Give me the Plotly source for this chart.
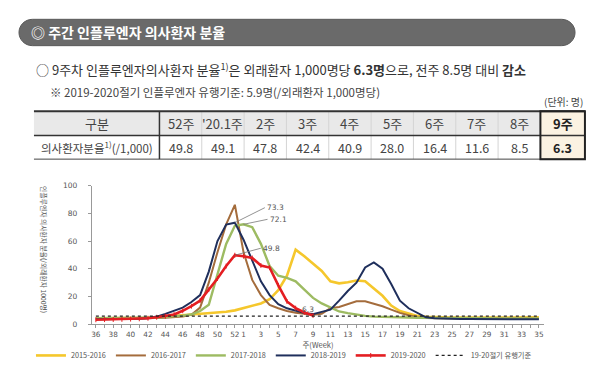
import plotly.graph_objects as go

W, H = 600, 370

# ---------------- data ----------------
week_labels = ["36", "37", "38", "39", "40", "41", "42", "43", "44", "45", "46", "47",
               "48", "49", "50", "51", "52", "1", "2", "3", "4", "5", "6", "7", "8",
               "9", "10", "11", "12", "13", "14", "15", "16", "17", "18", "19", "20",
               "21", "22", "23", "24", "25", "26", "27", "28", "29", "30", "31", "32",
               "33", "34", "35"]
labeled_weeks = ["36", "38", "40", "42", "44", "46", "48", "50", "52", "1", "3", "5", "7", "9",
                 "11", "13", "15", "17", "19", "21", "23", "25", "27", "29", "31", "33", "35"]

s2015_2016 = [4.2, 4.2, 4.3, 4.3, 4.4, 4.5, 4.7, 5.0, 5.5, 6.0, 6.4, 6.8, 7.2, 7.7, 8.3, 9.0, 10.0,
              11.5, 13.0, 15.0, 18.0, 24.5, 35.0, 53.8, 49.0, 44.0, 38.5, 31.0, 29.5, 30.3, 31.5,
              31.0, 26.0, 20.5, 13.5, 9.5, 7.7, 6.0, 5.3, 5.0, 4.9, 4.8, 4.8, 4.7, 4.7, 4.7, 4.8,
              4.8, 4.9, 4.9, 5.0, 5.0]
s2016_2017 = [4.0, 4.0, 4.0, 4.1, 4.1, 4.2, 4.3, 4.4, 4.6, 5.0, 5.6, 6.8, 12.0, 30.0, 52.0, 72.0, 86.2,
              52.0, 32.0, 21.0, 14.0, 11.5, 9.5, 8.3, 7.3, 6.8, 7.5, 11.5, 12.5, 14.5, 16.5, 16.5,
              15.0, 13.0, 10.5, 8.2, 6.5, 5.0, 4.5, 4.3, 4.2, 4.2, 4.1, 4.1, 4.1, 4.1, 4.0, 4.0,
              4.0, 4.0, 4.0, 4.0]
s2017_2018 = [4.3, 4.3, 4.4, 4.4, 4.5, 4.6, 4.7, 4.9, 5.2, 5.6, 6.2, 7.0, 9.5, 14.0, 36.0, 58.0, 71.0,
              72.1, 70.0, 58.0, 42.0, 35.0, 33.5, 31.0, 25.0, 19.0, 15.0, 12.0, 9.2, 8.0, 6.8, 6.0,
              5.5, 5.2, 5.0, 5.0, 4.8, 4.7, 4.6, 4.5, 4.5, 4.4, 4.4, 4.3, 4.3, 4.3, 4.2, 4.2, 4.2,
              4.1, 4.1, 4.1]
s2018_2019 = [3.5, 3.5, 3.6, 3.6, 3.7, 3.9, 4.3, 5.5, 7.5, 9.5, 12.0, 16.0, 21.0, 38.0, 60.0, 71.9, 73.3,
              61.0, 46.0, 31.0, 21.0, 14.5, 11.5, 9.5, 8.0, 7.3, 9.0, 10.5, 17.0, 24.0, 30.0, 41.0,
              44.6, 40.0, 29.0, 17.0, 11.5, 8.0, 5.0, 4.3, 4.0, 3.9, 3.8, 3.8, 3.7, 3.7, 3.7, 3.6,
              3.6, 3.6, 3.6, 3.5]
s2019_2020 = [3.2, 3.3, 3.4, 3.5, 3.7, 3.9, 4.3, 5.0, 5.8, 7.0, 9.7, 13.0, 17.0, 25.0, 33.0, 42.0, 49.8,
              49.1, 47.8, 42.4, 40.9, 28.0, 16.4, 11.6, 8.5, 6.3]
threshold = 5.9

series_names = ["2015-2016", "2016-2017", "2017-2018", "2018-2019", "2019-2020"]
series_values = [s2015_2016, s2016_2017, s2017_2018, s2018_2019, s2019_2020]
series_colors = ["#f5c72c", "#a46c3c", "#9dbb62", "#1f2f5c", "#e41e22"]
series_widths = [2.6, 2.0, 2.4, 2.0, 2.6]

y_ticks = [0, 20, 40, 60, 80, 100]

table_header = ["구분", "52주", "'20.1주", "2주", "3주", "4주", "5주", "6주", "7주", "8주", "<b>9주</b>"]
table_label = "의사환자분율<sup>1)</sup>(/1,000)"
table_rates = ["49.8", "49.1", "47.8", "42.4", "40.9", "28.0", "16.4", "11.6", "8.5", "<b>6.3</b>"]

# ---------------- helpers ----------------
def px(x):
    return x / W

def py(y):
    return 1 - y / H

FONT = "Noto Sans CJK KR"
AX_FONT = "DejaVu Sans"

xi = list(range(len(week_labels)))

fig = go.Figure()

for name, vals, col, wd in zip(series_names, series_values, series_colors, series_widths):
    is_red = name == "2019-2020"
    fig.add_trace(go.Scatter(
        x=xi[:len(vals)], y=vals, name=name,
        mode="lines+markers" if is_red else "lines",
        line=dict(color=col, width=wd),
        marker=dict(symbol="line-ns-open", size=3.5, line=dict(width=1, color="#b01015")) if is_red else None,
        hoverinfo="skip",
    ))

fig.add_trace(go.Scatter(
    x=xi, y=[threshold] * len(xi), name="19-20절기 유행기준", mode="lines",
    line=dict(color="#222222", width=1.3, dash="dot"), hoverinfo="skip",
))

# ---------------- table (shapes + text) ----------------
TB_X0, TB_Y0, TB_YM, TB_Y1 = 25, 101.7, 126.6, 150.8
col_w = [125.7] + [42.4] * 9 + [44.6]
edges = [TB_X0]
for w in col_w:
    edges.append(edges[-1] + w)
TB_X1 = edges[-1]

shapes = []
shapes.append(dict(type="rect", xref="paper", yref="paper", x0=px(edges[0]), x1=px(edges[-2]),
                   y0=py(TB_YM), y1=py(TB_Y0), fillcolor="#e9e9e9", line=dict(width=0), layer="below"))
shapes.append(dict(type="rect", xref="paper", yref="paper", x0=px(edges[-2]), x1=px(edges[-1]),
                   y0=py(TB_Y1), y1=py(TB_Y0), fillcolor="#fbf2e2", line=dict(width=0), layer="below"))
for e in edges[2:-2]:
    shapes.append(dict(type="line", xref="paper", yref="paper", x0=px(e), x1=px(e),
                       y0=py(TB_Y1), y1=py(TB_Y0), line=dict(color="#d4d4d4", width=1)))
shapes += [
    dict(type="line", xref="paper", yref="paper", x0=px(TB_X0), x1=px(TB_X1), y0=py(TB_Y0), y1=py(TB_Y0),
         line=dict(color="#333333", width=2)),
    dict(type="line", xref="paper", yref="paper", x0=px(TB_X0), x1=px(TB_X1), y0=py(TB_YM), y1=py(TB_YM),
         line=dict(color="#333333", width=1.5)),
    dict(type="line", xref="paper", yref="paper", x0=px(TB_X0), x1=px(TB_X1), y0=py(TB_Y1), y1=py(TB_Y1),
         line=dict(color="#444444", width=1)),
    dict(type="line", xref="paper", yref="paper", x0=px(edges[1]), x1=px(edges[1]), y0=py(TB_Y0), y1=py(TB_Y1),
         line=dict(color="#333333", width=1.5)),
    dict(type="rect", xref="paper", yref="paper", x0=px(edges[-2]), x1=px(edges[-1]), y0=py(TB_Y0), y1=py(TB_Y1),
         line=dict(color="#222222", width=2)),
]

def rounded_rect(x0, y0, x1, y1, r):
    k = 0.5523 * r
    pts = [
        f"M{px(x0 + r)},{py(y0)}",
        f"L{px(x1 - r)},{py(y0)}",
        f"C{px(x1 - r + k)},{py(y0)} {px(x1)},{py(y0 + r - k)} {px(x1)},{py(y0 + r)}",
        f"L{px(x1)},{py(y1 - r)}",
        f"C{px(x1)},{py(y1 - r + k)} {px(x1 - r + k)},{py(y1)} {px(x1 - r)},{py(y1)}",
        f"L{px(x0 + r)},{py(y1)}",
        f"C{px(x0 + r - k)},{py(y1)} {px(x0)},{py(y1 - r + k)} {px(x0)},{py(y1 - r)}",
        f"L{px(x0)},{py(y0 + r)}",
        f"C{px(x0)},{py(y0 + r - k)} {px(x0 + r - k)},{py(y0)} {px(x0 + r)},{py(y0)} Z",
    ]
    return " ".join(pts)

shapes.append(dict(type="path", xref="paper", yref="paper", path=rounded_rect(10, 7.5, 567, 34.5, 13.5),
                   fillcolor="#6a6a6a", line=dict(color="#5a5a5a", width=1), layer="below"))

annotations = []
row_texts = [table_header, [table_label] + table_rates]
row_mid = [(TB_Y0 + TB_YM) / 2, (TB_YM + TB_Y1) / 2]
row_size = [13, 12.5]
for r, texts in enumerate(row_texts):
    for c, t in enumerate(texts):
        cx = (edges[c] + edges[c + 1]) / 2
        annotations.append(dict(x=px(cx), y=py(row_mid[r]), xref="paper", yref="paper",
                                xanchor="center", yanchor="middle", showarrow=False, text=t,
                                font=dict(family=FONT, size=(11.5 if (r == 1 and c == 0) else row_size[r]),
                                          color="#222222" if c == len(texts) - 1 else "#444444")))

# ---------------- other texts ----------------
annotations += [
    dict(x=px(20), y=py(21), xref="paper", yref="paper", xanchor="left", yanchor="middle",
         showarrow=False, text="<b>◎ 주간 인플루엔자 의사환자 분율</b>",
         font=dict(family=FONT, size=14, color="#ffffff")),
    dict(x=px(25), y=py(58.5), xref="paper", yref="paper", xanchor="left", yanchor="middle",
         showarrow=False,
         text="○ 9주차 인플루엔자의사환자 분율<sup>1)</sup>은 외래환자 1,000명당 <b>6.3명</b>으로, 전주 8.5명 대비 <b>감소</b>",
         font=dict(family=FONT, size=13, color="#333333")),
    dict(x=px(39), y=py(81.5), xref="paper", yref="paper", xanchor="left", yanchor="middle",
         showarrow=False, text="※ 2019-2020절기 인플루엔자 유행기준: 5.9명(/외래환자 1,000명당)",
         font=dict(family=FONT, size=11.5, color="#444444")),
    dict(x=px(577), y=py(92), xref="paper", yref="paper", xanchor="right", yanchor="middle",
         showarrow=False, text="(단위: 명)",
         font=dict(family=FONT, size=10, color="#444444")),
    dict(x=px(35), y=py(244), xref="paper", yref="paper", xanchor="center", yanchor="middle",
         showarrow=False, textangle=90, text="인플루엔자 의사환자 분율(/외래환자 1000명)",
         font=dict(family=FONT, size=6.8, color="#555555")),
]

lab_font = dict(family=AX_FONT, size=7.5, color="#555555")
annotations += [
    dict(x=xi[16], y=s2018_2019[16], xref="x", yref="y", text="73.3", showarrow=True,
         arrowhead=0, arrowwidth=0.8, arrowcolor="#777777", ax=30, ay=-15, xanchor="left",
         font=lab_font),
    dict(x=xi[17], y=s2017_2018[17], xref="x", yref="y", text="72.1", showarrow=True,
         arrowhead=0, arrowwidth=0.8, arrowcolor="#777777", ax=24, ay=-5, xanchor="left",
         font=lab_font),
    dict(x=xi[16], y=s2019_2020[16], xref="x", yref="y", text="49.8", showarrow=True,
         arrowhead=0, arrowwidth=0.8, arrowcolor="#777777", ax=26, ay=-7, xanchor="left",
         font=lab_font),
    dict(x=xi[25], y=s2019_2020[25], xref="x", yref="y", text="6.3", showarrow=False,
         xshift=-5, yshift=6, font=lab_font),
]

major_vals = [week_labels.index(w) for w in labeled_weeks]
minor_vals = [i for i in xi if i not in major_vals]

fig.update_layout(
    width=W, height=H, margin=dict(l=0, r=0, t=0, b=0),
    paper_bgcolor="#ffffff", plot_bgcolor="#ffffff",
    shapes=shapes, annotations=annotations,
    xaxis=dict(domain=[px(83), px(536)], range=[-0.46, 51.6], tickmode="array",
               tickvals=major_vals, ticktext=labeled_weeks, ticks="outside", ticklen=3, tickcolor="#999999",
               minor=dict(tickmode="array", tickvals=minor_vals, ticks="outside", ticklen=3,
                          tickcolor="#999999", showgrid=False),
               showline=True, linecolor="#999999", linewidth=1, showgrid=False, zeroline=False,
               tickfont=dict(family=AX_FONT, size=7.3, color="#555555"), tickangle=0,
               title=dict(text="주(Week)", font=dict(family=FONT, size=7.5, color="#555555"), standoff=3)),
    yaxis=dict(domain=[py(320), py(178)], range=[0, 100], tickmode="array", tickvals=y_ticks,
               ticks="outside", ticklen=3, tickcolor="#999999", showline=True, linecolor="#999999",
               linewidth=1, showgrid=False, zeroline=False, ticklabelstandoff=9,
               tickfont=dict(family=AX_FONT, size=7.5, color="#555555")),
    legend=dict(orientation="h", x=px(22), y=py(352), xanchor="left", yanchor="middle",
                font=dict(family=FONT, size=7.3, color="#555555"), itemwidth=30,
                bgcolor="rgba(0,0,0,0)", tracegroupgap=0),
    showlegend=True,
)

fig.write_html("out.html")
